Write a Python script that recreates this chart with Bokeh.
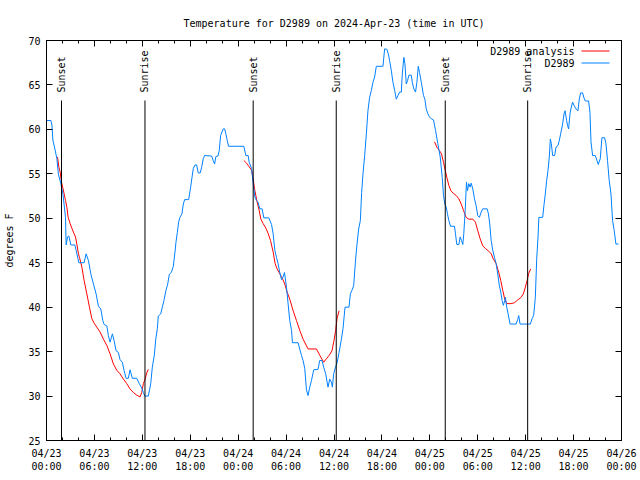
from math import pi
from bokeh.plotting import figure
from bokeh.models import FixedTicker, LinearAxis, Range1d, Label
from bokeh.embed import file_html
from bokeh.resources import INLINE
from bokeh.core.properties import value

# ---------------- data (hours after 2024-04-23 00:00 UTC, degrees F) ----------------
obs_hours = [0.0, 0.55, 0.68, 0.8, 1.05, 1.3, 1.5, 1.8, 2.05, 2.2, 2.38, 2.46, 2.63, 2.8, 3.05, 3.55,
             3.71, 4.05, 4.71, 4.96, 5.25, 5.55, 5.88, 6.21, 6.5, 6.8, 7.05, 7.21, 7.55, 7.75, 7.96,
             8.25, 8.46, 8.71, 9.0, 9.21, 9.5, 9.71, 9.96, 10.25, 10.46, 10.75, 11.3, 11.59, 11.93,
             12.13, 12.3, 12.75, 13.05, 13.25, 13.5, 13.68, 13.88, 14.0, 14.3, 14.5, 14.71, 14.96,
             15.18, 15.38, 15.63, 15.88, 16.09, 16.21, 16.38, 16.55, 16.71, 16.96, 17.13, 17.3, 17.8,
             18.05, 18.21, 18.38, 18.59, 18.8, 19.0, 19.25, 19.43, 19.63, 19.8, 20.68, 20.88, 21.05,
             21.21, 21.46, 21.63, 21.8, 21.96, 22.13, 22.3, 22.46, 22.63, 22.8, 24.71, 24.88, 24.96,
             25.25, 25.38, 25.68, 25.88, 26.09, 26.3, 26.5, 26.71, 27.0, 27.21, 27.84, 28.18, 28.38,
             28.59, 28.8, 29.0, 29.21, 29.43, 29.63, 29.8, 30.05, 30.25, 30.46, 30.68, 30.8, 31.5,
             31.71, 31.93, 32.13, 32.34, 32.55, 32.75, 32.96, 33.18, 33.46, 34.0, 34.21, 34.5, 34.71,
             34.96, 35.25, 35.46, 35.68, 35.8, 35.96, 36.18, 36.38, 36.63, 36.93, 37.13, 37.38, 37.88,
             38.05, 38.25, 38.46, 38.68, 38.88, 39.09, 39.3, 39.46, 39.63, 39.84, 40.05, 40.25, 40.46,
             40.68, 40.88, 41.09, 41.3, 42.13, 42.34, 42.63, 42.8, 42.96, 43.18, 43.38, 43.59, 43.8,
             44.0, 44.21, 44.43, 44.55, 44.75, 44.88, 45.05, 45.21, 45.38, 45.68, 45.8, 46.0, 46.21,
             46.38, 46.55, 46.71, 46.93, 47.21, 47.38, 47.55, 47.75, 47.96, 48.18, 48.46, 48.71, 49.0,
             49.3, 49.55, 49.71, 49.88, 50.05, 50.21, 50.38, 50.59, 51.09, 51.21, 51.38, 51.63, 51.8,
             51.96, 52.13, 52.25, 52.43, 52.59, 52.71, 52.88, 53.05, 53.18, 53.38, 53.59, 53.8, 54.0,
             54.21, 54.43, 54.63, 55.18, 55.34, 55.5, 55.68, 55.88, 56.09, 56.3, 56.5, 56.71, 56.88,
             57.05, 57.21, 57.38, 57.46, 57.63, 57.8, 58.05, 58.8, 59.0, 59.13, 59.3, 60.59, 60.8,
             61.0, 61.21, 61.38, 61.55, 61.65, 62.13, 62.3, 62.46, 62.63, 62.8, 62.96, 63.09, 63.21,
             63.38, 63.63, 63.8, 64.05, 64.21, 64.38, 64.63, 64.8, 64.93, 65.13, 65.25, 65.38, 65.55,
             65.71, 65.88, 66.05, 66.3, 66.55, 66.71, 66.88, 67.13, 67.3, 67.46, 67.88, 68.05, 68.18,
             68.38, 68.71, 68.93, 69.09, 69.34, 69.55, 69.88, 70.05, 70.25, 70.46, 70.68, 70.88, 71.09,
             71.3, 71.63]
obs_temp = [61.0, 61.0, 60.5, 58.8, 57.8, 56.7, 54.9, 53.9, 52.75, 51.6, 50.1, 47.0, 47.9, 48.0, 47.0, 47.0,
            46.4, 45.0, 45.0, 46.0, 45.25, 43.75, 42.6, 41.5, 40.1, 39.8, 38.5, 38.05, 37.9, 36.8, 36.06,
            37.0, 36.25, 35.1, 34.9, 34.1, 33.8, 32.9, 32.0, 32.0, 32.95, 32.0, 32.0, 31.45, 30.9,
            30.4, 30.0, 30.0, 31.4, 33.25, 34.6, 36.4, 37.6, 39.0, 39.25, 40.0, 40.75, 41.9,
            42.6, 43.7, 43.9, 44.6, 46.2, 47.3, 48.4, 49.6, 50.1, 50.5, 51.6, 52.1, 52.1,
            53.5, 54.55, 55.6, 56.0, 56.0, 55.1, 55.1, 55.75, 56.7, 57.06, 57.0, 56.5, 56.1,
            56.95, 57.0, 57.6, 59.3, 59.7, 60.06, 60.06, 59.5, 58.75, 58.1, 58.1, 57.4, 57.06,
            57.06, 56.3, 55.6, 53.9, 52.4, 52.0, 51.8, 51.06, 51.06, 50.05, 50.05, 49.3, 48.25,
            46.4, 45.6, 44.9, 43.9, 43.1, 43.4, 43.9, 42.25, 40.4, 38.5, 37.4, 36.0, 36.0,
            35.3, 34.56, 34.0, 33.1, 30.7, 30.06, 31.0, 31.75, 32.95, 33.0, 34.0, 34.0, 33.25,
            32.5, 31.0, 31.9, 31.56, 31.0, 32.5, 33.25, 33.7, 34.9, 36.4, 37.6, 40.0, 40.0,
            41.5, 41.9, 42.4, 45.06, 47.1, 48.8, 49.75, 52.9, 55.0, 57.06, 59.5, 62.1, 63.6,
            64.4, 65.3, 65.9, 67.1, 67.1, 69.06, 69.0, 68.5, 67.75, 66.6, 65.3, 64.4, 63.4,
            63.8, 64.2, 64.2, 66.25, 68.1, 67.4, 65.1, 65.5, 66.1, 66.1, 65.3, 64.55, 64.2,
            65.3, 67.1, 66.4, 65.3, 63.8, 63.4, 62.3, 61.75, 61.4, 61.2, 61.06, 59.9, 58.4,
            56.9, 54.6, 52.56, 51.6, 51.25, 50.5, 49.75, 49.1, 49.1, 48.25, 47.05, 47.05, 47.9,
            47.5, 47.05, 48.25, 50.9, 54.06, 53.1, 53.9, 53.5, 53.95, 53.3, 52.2, 51.4, 50.3,
            50.1, 50.7, 51.06, 51.06, 50.5, 49.4, 47.5, 46.4, 45.6, 44.9, 43.75, 42.4, 41.7,
            40.75, 40.2, 40.75, 41.1, 40.0, 39.25, 38.1, 38.1, 38.6, 39.06, 38.1, 38.1, 38.7,
            39.06, 41.1, 45.4, 47.9, 50.1, 50.1, 51.55, 52.75, 54.25, 55.4, 56.9, 58.9, 58.4,
            57.06, 57.06, 58.0, 58.2, 58.75, 59.5, 60.6, 61.75, 62.1, 61.0, 60.4, 60.06, 61.75,
            62.5, 63.06, 62.7, 62.3, 62.1, 63.4, 64.1, 64.1, 63.55, 63.2, 63.2, 61.9, 58.6,
            57.06, 57.06, 56.5, 56.05, 56.7, 59.06, 59.06, 58.4, 56.5, 54.25, 52.75, 49.75, 48.6,
            47.1, 47.1]

an1_hours = [1.38, 1.55, 1.71, 1.88, 2.05, 2.21, 2.38, 2.55, 2.71, 2.96, 3.21, 3.46, 3.63, 3.8, 4.0,
             4.13, 4.43, 4.71, 5.05, 5.38, 5.68, 5.96, 6.3, 6.71, 7.13, 7.55, 7.96, 8.38, 8.8, 9.21,
             9.63, 10.05, 10.46, 10.88, 11.3, 11.71, 11.93, 12.13, 12.34, 12.55, 12.75]
an1_temp = [56.9, 55.75, 55.2, 54.06, 53.4, 52.75, 52.0, 51.25, 50.1, 49.4, 48.8, 48.25, 47.9, 47.1, 46.0,
            45.6, 44.5, 43.0, 41.5, 40.0, 38.7, 38.2, 37.75, 37.2, 36.4, 35.7, 34.75, 33.6, 32.9, 32.5,
            31.9, 31.4, 30.8, 30.4, 30.1, 29.9, 30.4, 31.4, 31.9, 32.6, 33.0]

an2_hours = [24.71, 25.05, 25.38, 25.68, 25.88, 26.09, 26.38, 26.63, 26.84, 27.13, 27.46, 27.75, 28.05,
             28.38, 28.63, 28.88, 29.21, 29.55, 29.84, 30.13, 30.46, 30.88, 31.3, 31.71, 32.13, 32.75,
             33.8, 34.21, 34.71, 35.05, 35.38, 35.75, 36.0, 36.21, 36.38, 36.63]
an2_temp = [56.5, 56.2, 55.8, 55.4, 54.4, 53.1, 51.8, 50.9, 49.9, 49.4, 48.9, 48.3, 47.5,
            46.2, 44.9, 44.3, 43.75, 43.2, 42.6, 41.7, 40.9, 39.6, 38.5, 37.4, 36.4, 35.3,
            35.3, 34.6, 33.8, 34.2, 34.56, 35.1, 36.25, 37.4, 38.7, 39.6]

an3_hours = [48.59, 48.88, 49.21, 49.46, 49.71, 49.93, 50.13, 50.38, 50.63, 50.96, 51.3, 51.63, 51.93,
             52.21, 52.55, 52.88, 53.38, 53.71, 54.0, 54.3, 54.63, 54.96, 55.38, 55.68, 55.96, 56.3,
             56.63, 56.88, 57.13, 57.38, 57.63, 58.18, 58.59, 59.0, 59.42, 59.71, 59.96, 60.18, 60.38,
             60.63]
an3_temp = [58.6, 58.0, 57.6, 57.25, 56.3, 55.4, 54.6, 53.7, 53.1, 52.8, 52.56, 52.2, 51.6,
            50.9, 50.1, 49.9, 49.9, 49.56, 48.6, 47.7, 46.9, 46.6, 46.3, 46.0, 45.4, 44.9,
            43.9, 43.0, 41.9, 40.9, 40.4, 40.4, 40.5, 40.8, 41.1, 41.5, 42.25, 43.0, 43.8,
            44.3]

sun_hours = [1.88, 12.33, 25.88, 36.28, 49.93, 60.25]
sun_labels = ["Sunset", "Sunrise", "Sunset", "Sunrise", "Sunset", "Sunrise"]

x_tick_hours = [0, 6, 12, 18, 24, 30, 36, 42, 48, 54, 60, 66, 72]
x_tick_labels = ["04/23\n00:00", "04/23\n06:00", "04/23\n12:00", "04/23\n18:00",
                 "04/24\n00:00", "04/24\n06:00", "04/24\n12:00", "04/24\n18:00",
                 "04/25\n00:00", "04/25\n06:00", "04/25\n12:00", "04/25\n18:00",
                 "04/26\n00:00"]
x_minor_hours = list(range(0, 73, 2))
y_ticks = [25, 30, 35, 40, 45, 50, 55, 60, 65, 70]

title_text = "Temperature for D2989 on 2024-Apr-23 (time in UTC)"
series_names = ["D2989 analysis", "D2989"]

# ---------------- style ----------------
FONT = "DejaVu Sans Mono"
FS = "10px"
RED = "#ff0000"
BLUE = "#0080ff"

X0, X1 = 0, 72
Y0, Y1 = 25, 70
FL, FR, FT, FB = 46, 621, 40, 440   # frame pixel box
W, H = 640, 480


def px_to_x(px):
    return X0 + (px - FL) * (X1 - X0) / (FR - FL)


def px_to_y(py):
    return Y0 + (FB - py) * (Y1 - Y0) / (FB - FT)


p = figure(width=W, height=H, x_range=Range1d(X0, X1), y_range=Range1d(Y0, Y1),
           output_backend="svg", toolbar_location=None,
           min_border_left=FL, min_border_right=W - FR,
           min_border_top=FT, min_border_bottom=H - FB,
           title=title_text)
p.background_fill_color = "white"
p.border_fill_color = "white"
p.outline_line_color = "black"
p.outline_line_width = 1
p.grid.visible = False

p.title.text_font = FONT
p.title.text_font_size = FS
p.title.text_font_style = "normal"
p.title.text_color = "black"
p.title.align = "center"
p.title.standoff = 24

xt = FixedTicker(ticks=x_tick_hours, minor_ticks=x_minor_hours)
yt = FixedTicker(ticks=y_ticks, minor_ticks=[])


def style_axis(ax):
    ax.axis_line_color = "black"
    ax.major_tick_line_color = "black"
    ax.minor_tick_line_color = "black"
    ax.major_tick_in = 6
    ax.major_tick_out = 0
    ax.minor_tick_in = 3
    ax.minor_tick_out = 0
    ax.major_label_text_font = FONT
    ax.major_label_text_font_size = FS
    ax.major_label_text_color = "black"


xa = p.xaxis[0]
xa.ticker = xt
style_axis(xa)
xa.major_label_overrides = {t: lab for t, lab in zip(x_tick_hours, x_tick_labels)}
xa.major_label_standoff = 7

ya = p.yaxis[0]
ya.ticker = yt
style_axis(ya)
ya.major_label_standoff = 6
ya.axis_label = "degrees F"
ya.axis_label_text_font = FONT
ya.axis_label_text_font_size = FS
ya.axis_label_text_font_style = "normal"
ya.axis_label_text_color = "black"
ya.axis_label_standoff = 10

top = LinearAxis(ticker=xt)
style_axis(top)
top.major_label_text_color = None
top.major_label_text_font_size = "1px"
top.major_label_standoff = 0
p.add_layout(top, "above")

right = LinearAxis(ticker=yt)
style_axis(right)
right.major_label_text_color = None
right.major_label_text_font_size = "1px"
right.major_label_standoff = 0
p.add_layout(right, "right")

# ---------------- data lines ----------------
for hx, ty in ((an1_hours, an1_temp), (an2_hours, an2_temp), (an3_hours, an3_temp)):
    p.line(hx, ty, line_color=RED, line_width=1)
p.line(obs_hours, obs_temp, line_color=BLUE, line_width=1)

# sunrise / sunset markers
line_top = px_to_y(100)
p.segment(x0=sun_hours, y0=[Y0] * len(sun_hours), x1=sun_hours, y1=[line_top] * len(sun_hours),
          line_color="black", line_width=1)
p.text(x=sun_hours, y=[px_to_y(92)] * len(sun_hours), text=sun_labels, angle=pi / 2,
       text_align="left", text_baseline="middle", text_font=value(FONT), text_font_size=FS,
       text_color="black")

# legend (text left, sample line right, like the original)
for i, (name, col) in enumerate(zip(series_names, (RED, BLUE))):
    yy = px_to_y(50.5 + 12 * i)
    p.add_layout(Label(x=px_to_x(574), y=yy, text=name, text_align="right",
                       text_baseline="middle", text_font=FONT, text_font_size=FS,
                       text_color="black"))
    p.segment(x0=[px_to_x(581)], y0=[yy], x1=[px_to_x(609)], y1=[yy], line_color=col, line_width=1)

open("out.html", "w").write(file_html(p, INLINE))
